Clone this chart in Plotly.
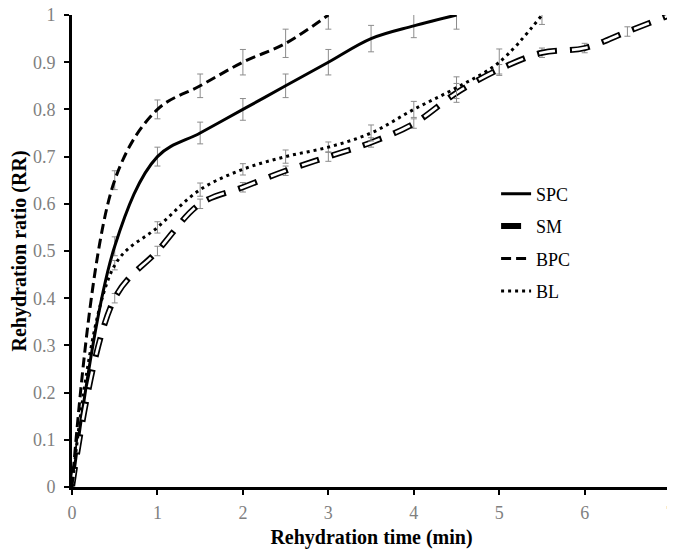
import plotly.graph_objects as go

# rehydration time (min)
time_spc = [0, 0.5, 1, 1.5, 2, 2.5, 3, 3.5, 4, 4.5]
time_sm = [0, 0.5, 1, 1.5, 2, 2.5, 3, 3.5, 4, 4.5, 5, 5.5, 6, 6.5, 7]
time_bpc = [0, 0.5, 1, 1.5, 2, 2.5, 3]
time_bl = [0, 0.5, 1, 1.5, 2, 2.5, 3, 3.5, 4, 4.5, 5, 5.5]

# rehydration ratio (RR)
rr_spc = [0, 0.51, 0.70, 0.75, 0.80, 0.85, 0.90, 0.95, 0.977, 1.0]
rr_sm = [0, 0.40, 0.50, 0.60, 0.635, 0.67, 0.70, 0.73, 0.77, 0.835, 0.885, 0.92, 0.93, 0.965, 1.0]
rr_bpc = [0, 0.65, 0.80, 0.85, 0.90, 0.94, 1.0]
rr_bl = [0, 0.47, 0.55, 0.63, 0.673, 0.70, 0.72, 0.75, 0.80, 0.846, 0.90, 1.0]

# standard deviations
sd_spc = [0, 0.02, 0.02, 0.023, 0.023, 0.025, 0.027, 0.028, 0.025, 0.03]
sd_sm = [0, 0.01, 0.01, 0.01, 0.01, 0.01, 0.01, 0.01, 0.01, 0.02, 0.01, 0.01, 0.01, 0.01, 0.01]
sd_bpc = [0, 0.02, 0.02, 0.025, 0.027, 0.03, 0.03]
sd_bl = [0, 0.01, 0.012, 0.014, 0.012, 0.014, 0.011, 0.017, 0.017, 0.023, 0.028, 0.02]

x_ticks = [0, 1, 2, 3, 4, 5, 6, 7]

ERR = dict(type="data", thickness=1, width=3, color="#8c8c8c")
SERIF = "Liberation Serif"


def err(sd):
    return dict(ERR, array=sd, visible=True)


fig = go.Figure()
fig.add_trace(go.Scatter(
    x=time_spc, y=rr_spc, name="SPC", mode="lines", error_y=err(sd_spc), legendgroup="spc",
    line=dict(color="black", width=3, shape="spline"),
))
# SM: outlined dashes = thick black dash with a thinner white dash inside
fig.add_trace(go.Scatter(
    x=time_sm, y=rr_sm, name="SM", mode="lines", error_y=err(sd_sm), legendgroup="sm",
    line=dict(color="black", width=6, shape="spline", dash="20px,13px"),
))
fig.add_trace(go.Scatter(
    x=time_sm, y=rr_sm, name="SM", mode="lines", legendgroup="sm", showlegend=False,
    line=dict(color="white", width=2.6, shape="spline", dash="0px,2px,16px,15px"),
))
fig.add_trace(go.Scatter(
    x=time_bpc, y=rr_bpc, name="BPC", mode="lines", error_y=err(sd_bpc), legendgroup="bpc",
    line=dict(color="black", width=3, shape="spline", dash="10px,5px"),
))
fig.add_trace(go.Scatter(
    x=time_bl, y=rr_bl, name="BL", mode="lines", error_y=err(sd_bl), legendgroup="bl",
    line=dict(color="black", width=3, shape="spline", dash="3px,4px"),
))

# page body has an 8px margin, so everything is shifted by 8px
fig.update_layout(
    width=675, height=541,
    paper_bgcolor="white", plot_bgcolor="white",
    margin=dict(l=64, r=12, t=7, b=62),
    font=dict(family=SERIF, color="black"),
    showlegend=True,
    legend=dict(x=0.708, y=0.66, xanchor="left", yanchor="top",
                font=dict(size=18, family=SERIF), itemwidth=30, tracegroupgap=6,
                bgcolor="rgba(0,0,0,0)"),
)
fig.update_xaxes(
    range=[0, 7.01], tickmode="array", tickvals=x_ticks, ticktext=[str(v) for v in x_ticks],
    showgrid=False, zeroline=False, automargin=False,
    showline=True, linecolor="black", linewidth=3,
    ticks="outside", ticklen=5, tickwidth=2, tickcolor="black",
    ticklabeloverflow="allow", ticklabelstandoff=2,
    tickfont=dict(size=18, color="#7f7f7f", family=SERIF),
    title=dict(text="<b>Rehydration time (min)</b>", font=dict(size=20, family=SERIF), standoff=10),
)
fig.update_yaxes(
    range=[0, 1], dtick=0.1, showgrid=False, zeroline=False, automargin=False,
    showline=True, linecolor="black", linewidth=3,
    ticks="outside", ticklen=5, tickwidth=2, tickcolor="black",
    ticklabeloverflow="allow", ticklabelstandoff=5,
    tickfont=dict(size=18, color="#7f7f7f", family=SERIF),
    title=dict(text="<b>Rehydration ratio (RR)</b>", font=dict(size=20, family=SERIF), standoff=4),
)

fig.write_html("out.html")
